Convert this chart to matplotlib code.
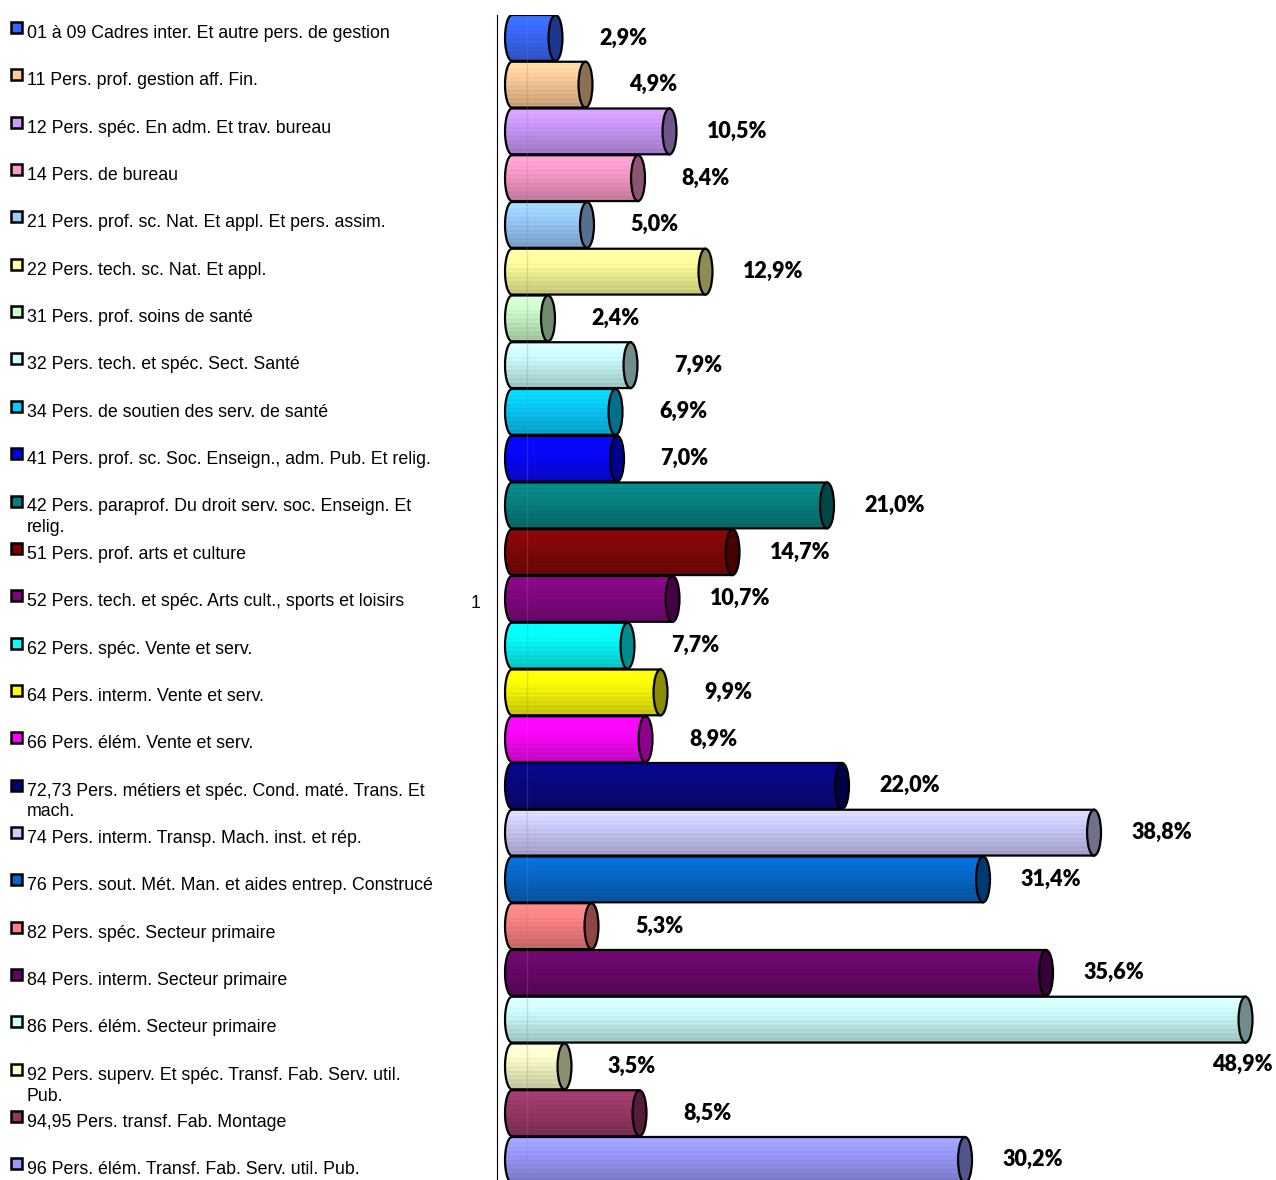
import numpy as np
import matplotlib.pyplot as plt
import matplotlib.patches as mpatches
import matplotlib.path as mpath
import matplotlib.colors as mcolors

categories = [
    "01 à 09 Cadres inter. Et autre pers. de gestion",
    "11 Pers. prof. gestion aff. Fin.",
    "12 Pers. spéc. En adm. Et trav. bureau",
    "14 Pers. de bureau",
    "21 Pers. prof. sc. Nat. Et appl. Et pers. assim.",
    "22 Pers. tech. sc. Nat. Et appl.",
    "31 Pers. prof. soins de santé",
    "32 Pers. tech. et spéc. Sect. Santé",
    "34 Pers. de soutien des serv. de santé",
    "41 Pers. prof. sc. Soc. Enseign., adm. Pub. Et relig.",
    "42 Pers. paraprof. Du droit serv. soc. Enseign. Et\nrelig.",
    "51 Pers. prof. arts et culture",
    "52 Pers. tech. et spéc. Arts cult., sports et loisirs",
    "62 Pers. spéc. Vente et serv.",
    "64 Pers. interm. Vente et serv.",
    "66 Pers. élém. Vente et serv.",
    "72,73 Pers. métiers et spéc. Cond. maté. Trans. Et\nmach.",
    "74 Pers. interm. Transp. Mach. inst. et rép.",
    "76 Pers. sout. Mét. Man. et aides entrep. Construcé",
    "82 Pers. spéc. Secteur primaire",
    "84 Pers. interm. Secteur primaire",
    "86 Pers. élém. Secteur primaire",
    "92 Pers. superv. Et spéc. Transf. Fab. Serv. util.\nPub.",
    "94,95 Pers. transf. Fab. Montage",
    "96 Pers. élém. Transf. Fab. Serv. util. Pub.",
]
values = [2.9, 4.9, 10.5, 8.4, 5.0, 12.9, 2.4, 7.9, 6.9, 7.0, 21.0, 14.7, 10.7,
          7.7, 9.9, 8.9, 22.0, 38.8, 31.4, 5.3, 35.6, 48.9, 3.5, 8.5, 30.2]
colors = ["#3366FF", "#FFCC99", "#CC99FF", "#FF99CC", "#99CCFF", "#FFFF99",
          "#CCFFCC", "#CCFFFF", "#00CCFF", "#0000FF", "#008080", "#800000",
          "#800080", "#00FFFF", "#FFFF00", "#FF00FF", "#000080", "#CCCCFF",
          "#0066CC", "#FF8080", "#660066", "#CCFFFF", "#FFFFCC", "#993366",
          "#9999FF"]
axis_label = "1"

W, H = 1276, 1180
fig = plt.figure(figsize=(W / 100, H / 100), dpi=100)
ax = fig.add_axes([497 / W, 0, 779 / W, 1165 / H])
ax.set_xlim(-1.0, 50.93)
ax.set_ylim(24.43, -0.49)
for s in ["top", "right", "bottom"]:
    ax.spines[s].set_visible(False)
ax.spines["left"].set_linewidth(0.8)
ax.set_xticks([])
ax.set_yticks([])

bh = 0.98   # bar height
cw = 0.93   # cap width (x units)
theta = np.linspace(np.pi / 2, 3 * np.pi / 2, 40)

for i, (v, c) in enumerate(zip(values, colors)):
    base = np.array(mcolors.to_rgb(c))
    top, bot = i - bh / 2, i + bh / 2
    # body outline: rectangle with rounded left end
    left = np.column_stack([cw / 2 * np.cos(theta), i - bh / 2 * np.sin(theta)])
    verts = np.vstack([[[v, top]], left, [[v, bot]], [[v, top]]])
    body = mpatches.PathPatch(mpath.Path(verts, closed=True), facecolor="none",
                              edgecolor="black", lw=1.6, zorder=3)
    ax.add_patch(body)
    # shaded gradient with faint stripes
    n = 32
    f = np.linspace(1.05, 0.72, n)
    f[::3] += 0.05
    grad = np.clip(base[None, :] * f[:, None] + 0.03, 0, 1)[:, None, :]
    im = ax.imshow(grad, extent=(-cw / 2, v, bot, top), aspect="auto",
                   interpolation="bilinear", zorder=2)
    im.set_clip_path(body)
    cap = mpatches.Ellipse((v, i), cw, bh, facecolor=base * 0.55,
                           edgecolor="black", lw=1.6, zorder=4)
    ax.add_patch(cap)

    lab = f"{v:.1f}".replace(".", ",") + "%"
    if v == max(values):
        ax.text(v - 0.2, i + 0.96, lab, ha="center", va="center",
                fontsize=15.5, fontweight="heavy", family="Lato", zorder=5)
    else:
        ax.text(v + 4.5, i, lab, ha="center", va="center",
                fontsize=15.5, fontweight="heavy", family="Lato", zorder=5)

ax.axvline(1.0, color="#888888", lw=1, alpha=0.25, zorder=4.5)

# category axis label
fig.text(476 / W, 1 - 603 / H, axis_label, ha="center", va="center",
         fontsize=12.8, family="Liberation Sans")

# legend on the left
for i, (name, c) in enumerate(zip(categories, colors)):
    ry = 31 + 47.35 * i
    fig.patches.append(mpatches.Rectangle((11 / W, 1 - (ry + 2) / H), 11 / W, 11 / H,
                                          transform=fig.transFigure, facecolor=c,
                                          edgecolor="black", lw=1.8))
    fig.text(27 / W, 1 - (ry - 6) / H, name, ha="left", va="top",
             fontsize=12.8, family="Liberation Sans", linespacing=1.3)

fig.savefig("out.png", dpi=100)
